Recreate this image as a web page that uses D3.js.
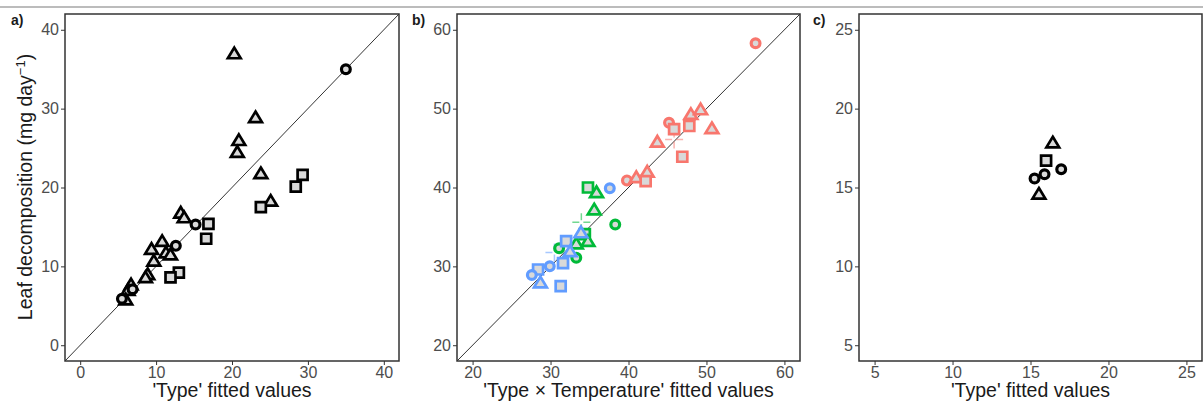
<!DOCTYPE html>
<html><head><meta charset="utf-8">
<script src="https://cdn.jsdelivr.net/npm/d3@7"></script>
<style>body{margin:0;background:#fff;}svg{display:block;font-family:"Liberation Sans",Arial,sans-serif;}</style>
</head><body>
<svg id="chart" width="1203" height="405"></svg>
<script>
// ---------- Panel a: 'Type' fitted vs observed ----------
const aFitted   = [20.3,23.1,20.9,20.7,23.8,25.1,13.25,13.7,10.8,9.4,11.3,11.9,9.7,8.9,8.6,6.7,6.3,6.0,
                   35.0,15.2,12.6,6.9,5.5,
                   29.3,28.4,23.8,16.9,16.6,13.0,11.9];
const aObserved = [37.0,28.9,26.0,24.5,21.8,18.3,16.8,16.2,13.2,12.2,11.75,11.5,10.7,9.0,8.6,7.7,7.0,5.8,
                   35.0,15.3,12.6,7.1,5.9,
                   21.6,20.1,17.5,15.4,13.5,9.2,8.6];
const aShape    = ["tri","tri","tri","tri","tri","tri","tri","tri","tri","tri","tri","tri","tri","tri","tri","tri","tri","tri",
                   "cir","cir","cir","cir","cir",
                   "sq","sq","sq","sq","sq","sq","sq"];

// ---------- Panel b: 'Type x Temperature' fitted vs observed ----------
const bFitted   = [56.3,45.2,45.85,47.8,48.0,49.25,50.7,43.7,46.9,39.8,41.0,42.4,42.2,
                   34.8,35.9,35.6,38.3,34.4,34.8,33.3,31.1,33.3,
                   37.6,32.0,33.9,32.5,31.6,29.9,28.4,27.6,28.7,31.3];
const bObserved = [58.3,48.2,47.4,47.8,49.3,49.9,47.5,45.8,43.9,40.9,41.3,42.0,40.8,
                   40.0,39.4,37.2,35.3,34.1,33.2,32.9,32.3,31.1,
                   39.9,33.2,34.3,31.9,30.4,30.0,29.6,28.9,27.95,27.5];
const bShape    = ["cir","cir","sq","sq","tri","tri","tri","tri","sq","cir","tri","tri","sq",
                   "sq","tri","tri","cir","sq","tri","tri","cir","cir",
                   "cir","sq","tri","tri","sq","cir","sq","cir","tri","sq"];
const bGroup    = ["red","red","red","red","red","red","red","red","red","red","red","red","red",
                   "green","green","green","green","green","green","green","green","green",
                   "blue","blue","blue","blue","blue","blue","blue","blue","blue","blue"];
const bCentroidX     = [45.85,33.95,30.5];
const bCentroidY     = [46.1,35.6,31.75];
const bCentroidGroup = ["red","green","blue"];

// ---------- Panel c: 'Type' fitted vs observed ----------
const cFitted   = [16.43,16.0,16.97,15.9,15.26,15.54];
const cObserved = [17.85,16.7,16.16,15.84,15.57,14.6];
const cShape    = ["tri","sq","cir","cir","cir","tri"];

const aTicks = [0,10,20,30,40];
const bTicks = [20,30,40,50,60];
const cTicks = [5,10,15,20,25];

const groupColors = {red:"#F8766D", green:"#00BA38", blue:"#619CFF"};

const svg = d3.select("#chart");

// top separator line
svg.append("line").attr("x1",0).attr("x2",1203).attr("y1",7).attr("y2",7)
   .attr("stroke","#a6a6a6").attr("stroke-width",1.5);

const panels = [
  {label:"a)", lx:11, left:65, right:399, domain:[-2,42], ticks:aTicks, xTitle:"'Type' fitted values",
   xs:aFitted, ys:aObserved, shapes:aShape, groups:null, diag:true},
  {label:"b)", lx:412, left:457, right:800, domain:[18,62], ticks:bTicks, xTitle:"'Type \u00d7 Temperature' fitted values",
   xs:bFitted, ys:bObserved, shapes:bShape, groups:bGroup, diag:true},
  {label:"c)", lx:813, left:859, right:1202, domain:[4,26], ticks:cTicks, xTitle:"'Type' fitted values",
   xs:cFitted, ys:cObserved, shapes:cShape, groups:null, diag:false}
];
const plotTop = 14, plotBottom = 361;

function markerPath(shape){
  if(shape==="sq") return "M-5,-5H5V5H-5Z";
  if(shape==="tri") return "M0,-5.8L6.4,4.8H-6.4Z";
  return d3.arc()({innerRadius:0,outerRadius:4.4,startAngle:0,endAngle:2*Math.PI});
}

panels.forEach((p,pi)=>{
  const x = d3.scaleLinear().domain(p.domain).range([p.left,p.right]);
  const y = d3.scaleLinear().domain(p.domain).range([plotBottom,plotTop]);
  const g = svg.append("g");
  const clipId = "clip"+pi;
  svg.append("clipPath").attr("id",clipId).append("rect")
     .attr("x",p.left).attr("y",plotTop).attr("width",p.right-p.left).attr("height",plotBottom-plotTop);

  const xa = g.append("g").attr("transform",`translate(0,${plotBottom})`)
     .call(d3.axisBottom(x).tickValues(p.ticks).tickSize(4).tickPadding(2));
  const ya = g.append("g").attr("transform",`translate(${p.left},0)`)
     .call(d3.axisLeft(y).tickValues(p.ticks).tickSize(4).tickPadding(2));
  [xa,ya].forEach(a=>{
    a.attr("font-size",null).attr("font-family",null);
    a.select(".domain").remove();
    a.selectAll(".tick line").attr("stroke","#333").attr("stroke-width",1);
    a.selectAll(".tick text").attr("fill","#4d4d4d").style("font-size","16px")
     .style("font-family","Liberation Sans, Arial, sans-serif");
  });

  const plot = g.append("g").attr("clip-path",`url(#${clipId})`);
  if(p.diag){
    plot.append("line")
      .attr("x1",x(p.domain[0])).attr("y1",y(p.domain[0]))
      .attr("x2",x(p.domain[1])).attr("y2",y(p.domain[1]))
      .attr("stroke","#333").attr("stroke-width",1);
  }

  if(pi===1){
    bCentroidX.forEach((cx,i)=>{
      const px=x(cx), py=y(bCentroidY[i]), col=groupColors[bCentroidGroup[i]];
      plot.append("path").attr("d",`M${px-9},${py}H${px+9}M${px},${py-9}V${py+9}`)
        .attr("stroke",col).attr("stroke-width",1.5).attr("opacity",0.55)
        .attr("stroke-dasharray","7,4");
    });
  }

  p.xs.forEach((vx,i)=>{
    const col = p.groups ? groupColors[p.groups[i]] : "#000";
    const sh = p.shapes[i];
    plot.append("path").attr("d",markerPath(sh))
      .attr("transform",`translate(${x(vx)},${y(p.ys[i])})`)
      .attr("fill","#d9d9d9").attr("stroke",col).attr("stroke-width",sh==="cir"?3.2:2.7)
      .attr("stroke-linejoin","miter");
  });

  g.append("rect").attr("x",p.left).attr("y",plotTop).attr("width",p.right-p.left).attr("height",plotBottom-plotTop)
    .attr("fill","none").attr("stroke","#333").attr("stroke-width",1.5);

  g.append("text").attr("x",(p.left+p.right)/2).attr("y",397).attr("text-anchor","middle")
    .attr("font-size","19.5px").attr("fill","#1a1a1a").text(p.xTitle);

  g.append("text").attr("x",p.lx).attr("y",25).attr("font-size","14px").attr("font-weight","bold")
    .attr("fill","#1a1a1a").text(p.label);
});

const yt = svg.append("text").attr("transform","translate(32,187) rotate(-90)").attr("text-anchor","middle")
  .attr("font-size","19.5px").attr("fill","#1a1a1a");
yt.append("tspan").text("Leaf decomposition (mg day");
yt.append("tspan").attr("dy",-7).attr("font-size","13px").text("\u22121");
yt.append("tspan").attr("dy",7).text(")");
</script>
</body></html>
